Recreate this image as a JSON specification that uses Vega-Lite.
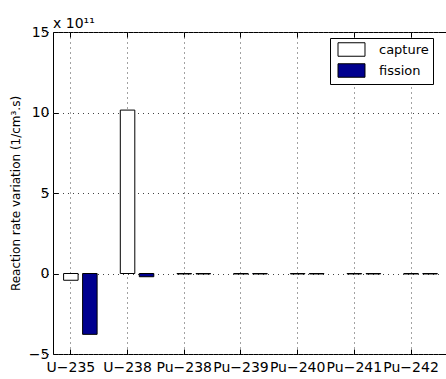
{
  "$schema": "https://vega.github.io/schema/vega-lite/v6.json",
  "autosize": "none",
  "width": 400,
  "height": 322,
  "padding": {"left": 53, "top": 32, "right": 0, "bottom": 25},
  "background": "white",
  "config": {
    "view": {"stroke": "black", "strokeWidth": 1},
    "font": "DejaVu Sans",
    "axis": {"labelFont": "DejaVu Sans", "titleFont": "DejaVu Sans", "labelColor": "black", "titleColor": "black", "tickColor": "black", "titleFontWeight": "normal"}
  },
  "title": {"text": "x 10¹¹", "anchor": "start", "frame": "group", "fontSize": 14, "fontWeight": "normal", "font": "DejaVu Sans", "color": "black", "offset": -6},
  "data": {
    "values": [
      {"isotope": "U−235", "reaction": "capture", "value": -0.42},
      {"isotope": "U−235", "reaction": "fission", "value": -3.78},
      {"isotope": "U−238", "reaction": "capture", "value": 10.15},
      {"isotope": "U−238", "reaction": "fission", "value": -0.2},
      {"isotope": "Pu−238", "reaction": "capture", "value": -0.03},
      {"isotope": "Pu−238", "reaction": "fission", "value": -0.03},
      {"isotope": "Pu−239", "reaction": "capture", "value": -0.03},
      {"isotope": "Pu−239", "reaction": "fission", "value": -0.03},
      {"isotope": "Pu−240", "reaction": "capture", "value": -0.03},
      {"isotope": "Pu−240", "reaction": "fission", "value": -0.03},
      {"isotope": "Pu−241", "reaction": "capture", "value": -0.03},
      {"isotope": "Pu−241", "reaction": "fission", "value": -0.03},
      {"isotope": "Pu−242", "reaction": "capture", "value": -0.03},
      {"isotope": "Pu−242", "reaction": "fission", "value": -0.03}
    ]
  },
  "encoding": {
    "x": {
      "field": "isotope", "type": "nominal", "sort": null,
      "scale": {"range": [-10.5, 386.4], "paddingInner": 0, "paddingOuter": 0}
    },
    "xOffset": {
      "field": "reaction", "type": "nominal",
      "scale": {"domain": ["pad", "capture", "fission"], "paddingInner": 0.237, "paddingOuter": 0.11}
    },
    "y": {
      "field": "value", "type": "quantitative",
      "scale": {"domain": [-5, 15], "nice": false, "zero": false},
      "axis": {
        "values": [-5, 0, 5, 10, 15],
        "title": "Reaction rate variation (1/cm³.s)",
        "titleFontSize": 12, "titlePadding": 6,
        "labelFontSize": 14, "labelPadding": 9,
        "labelExpr": "replace(datum.label, '-', '−')",
        "tickSize": -5, "domain": false,
        "grid": true, "gridDash": [1, 4], "gridColor": "#444", "gridOpacity": 1
      }
    }
  },
  "layer": [
    {
      "mark": {"type": "bar", "opacity": 0},
      "encoding": {
        "x": {"field": "isotope", "type": "nominal", "sort": null,
          "axis": {"orient": "top", "labels": false, "title": null, "domain": false, "tickSize": -5, "grid": false}}
      }
    },
    {
      "mark": {"type": "bar", "stroke": "black", "strokeWidth": 1},
      "encoding": {
        "x": {"field": "isotope", "type": "nominal", "sort": null,
          "axis": {"orient": "bottom", "title": null, "labelAngle": 0, "labelFontSize": 14, "labelPadding": 11, "domain": false, "tickSize": -5,
            "grid": true, "gridDash": [1, 4], "gridColor": "#444", "gridOpacity": 1}},
        "fill": {
          "field": "reaction", "type": "nominal",
          "scale": {"domain": ["capture", "fission"], "range": ["white", "#00008F"]},
          "legend": {
            "orient": "none", "legendX": 277, "legendY": 6,
            "title": null, "strokeColor": "black", "fillColor": "white", "padding": 4,
            "labelFontSize": 13, "labelColor": "black", "labelOffset": 20, "labelFont": "DejaVu Sans",
            "symbolType": "M-2,-1H2V1H-2Z", "symbolSize": 182, "symbolOffset": 10,
            "symbolStrokeColor": "black", "symbolStrokeWidth": 1, "rowPadding": 2
          }
        }
      }
    }
  ],
  "resolve": {"axis": {"x": "independent"}}
}
